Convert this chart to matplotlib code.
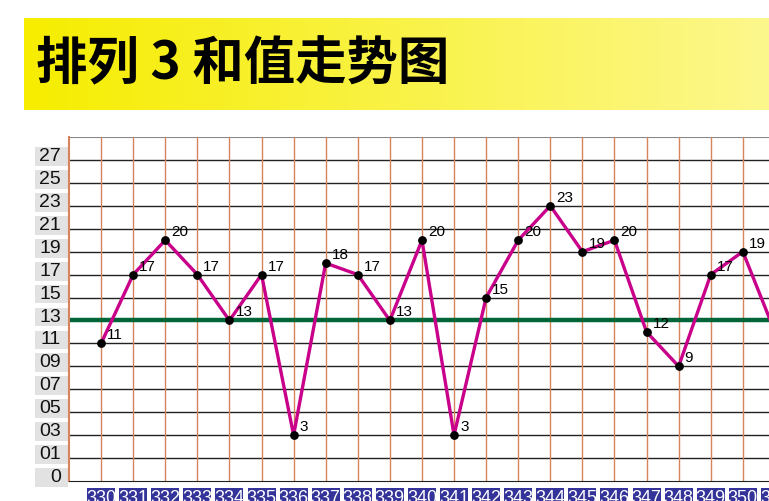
import numpy as np
import matplotlib
matplotlib.use('Agg')
import matplotlib.pyplot as plt

# data
issues = ['330', '331', '332', '333', '334', '335', '336', '337', '338', '339', '340',
          '341', '342', '343', '344', '345', '346', '347', '348', '349', '350', '351']
sums = [11, 17, 20, 17, 13, 17, 3, 18, 17, 13, 20,
        3, 15, 20, 23, 19, 20, 12, 9, 17, 19, 12]
avg_line = 13
y_ticks = [-1, 1, 3, 5, 7, 9, 11, 13, 15, 17, 19, 21, 23, 25, 27]
y_labels = ['0', '01', '03', '05', '07', '09', '11', '13', '15', '17', '19', '21', '23', '25', '27']
title = '排列 3 和值走势图'

W, H = 769, 501
fig = plt.figure(figsize=(W / 100, H / 100), dpi=100)
fig.patch.set_facecolor('white')

# yellow gradient title banner
bx = fig.add_axes([24 / W, (H - 110) / H, (W - 24) / W, 92 / H])
left = np.array([0.965, 0.93, 0.0])
right = np.array([0.99, 0.97, 0.55])
t = np.linspace(0, 1, 256)[None, :, None]
grad = left * (1 - t) + right * t
bx.imshow(grad, aspect='auto', extent=[0, 1, 0, 1])
bx.set_axis_off()
bx.text(12 / (W - 24), 0.5, title, fontsize=37, fontweight='heavy',
        family=['Noto Sans CJK SC', 'DejaVu Sans'], va='center', ha='left', color='black')

# main chart
x0, x_right = 69, 807
ax = fig.add_axes([x0 / W, (H - 481) / H, (x_right - x0) / W, (481 - 137) / H])
x = np.arange(len(issues))
ax.set_xlim(-1, 22)
ax.set_ylim(-1, 29)
px = 32.1   # pixels per x unit
py = 11.5   # pixels per y unit

for yv in y_ticks[1:]:
    ax.axhline(yv, color='#222222', lw=1.0, zorder=1)
ax.axhline(29, color='#888888', lw=1.5, zorder=1)
for xv in x:
    ax.axvline(xv, color='#d6845c', lw=1.0, zorder=1)

ax.axhline(avg_line, color='#00663a', lw=3.2, zorder=2)

ax.plot(x, sums, color='#c8008a', lw=2.4, zorder=3)
ax.scatter(x, sums, s=28, color='black', zorder=4)
for xv, v in zip(x, sums):
    ax.annotate(str(v), (xv, v), xytext=(6, 1), textcoords='offset pixels',
                fontsize=11, family='Liberation Sans', ha='left', va='bottom', zorder=5)

for s in ['top', 'right']:
    ax.spines[s].set_visible(False)
ax.spines['left'].set_color('#d6845c')
ax.spines['left'].set_linewidth(1.5)
ax.spines['bottom'].set_color('#222222')
ax.set_xticks([])
ax.set_yticks([])

# y labels in grey boxes
for yv, lab in zip(y_ticks, y_labels):
    yc = yv + 0.3
    ax.add_patch(plt.Rectangle((-1 - 34 / px, yc - 0.82), 33 / px, 1.64,
                               facecolor='#e2e2e2', edgecolor='none', clip_on=False))
    ax.text(-1 - 8 / px, yc, lab, fontsize=14, family='Liberation Sans',
            ha='right', va='center', color='#111111', clip_on=False)

# x labels in blue boxes
for xv, lab in zip(x, issues):
    ax.add_patch(plt.Rectangle((xv - 14 / px, -1 - 30 / py), 28 / px, 23 / py,
                               facecolor='#333399', edgecolor='none', clip_on=False))
    ax.text(xv, -1 - 9 / py, lab, fontsize=13, family='Liberation Sans', color='white',
            ha='center', va='top', clip_on=False)

plt.savefig('out.png', dpi=100)
plt.close()
